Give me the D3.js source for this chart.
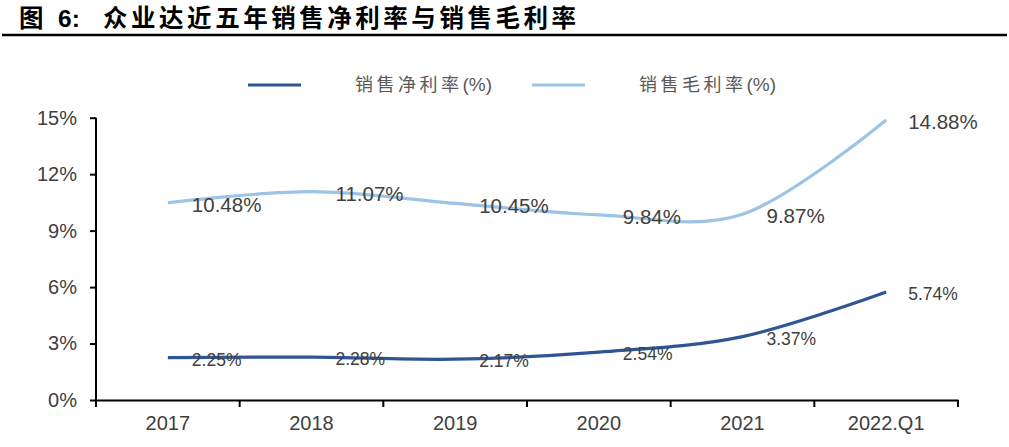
<!DOCTYPE html>
<html><head><meta charset="utf-8">
<script src="https://cdn.jsdelivr.net/npm/d3@7/dist/d3.min.js"></script>
<style>
html,body{margin:0;padding:0;background:#fff;}
svg{display:block;}
</style></head>
<body>
<svg id="c" width="1009" height="447"></svg>
<script>
const categories = ["2017","2018","2019","2020","2021","2022.Q1"];
const netMargin = [2.25, 2.28, 2.17, 2.54, 3.37, 5.74];
const grossMargin = [10.48, 11.07, 10.45, 9.84, 9.87, 14.88];
const yTicks = [0, 3, 6, 9, 12, 15];
const seriesNames = ["销售净利率", "销售毛利率"];
const seriesUnit = "(%)";
const titleParts = ["图", "6:", "众业达近五年销售净利率与销售毛利率"];

const svg = d3.select("#c");
const colors = ["#2F5597", "#9DC3E6"];

// Title
const title = svg.append("text").attr("y", 27)
  .attr("font-family", "'Noto Sans CJK SC', sans-serif").attr("font-weight", "bold")
  .attr("font-size", 24.5).attr("fill", "#000");
title.append("tspan").attr("x", 19).text(titleParts[0]);
title.append("tspan").attr("x", 58).attr("font-family", "'Liberation Sans', Arial, sans-serif").text(titleParts[1]);
title.append("tspan").attr("x", 103).attr("textLength", 473).attr("lengthAdjust", "spacing").text(titleParts[2]);
svg.append("line").attr("x1", 2).attr("x2", 1007).attr("y1", 35).attr("y2", 35)
  .attr("stroke", "#000").attr("stroke-width", 2.5);

const x = d3.scaleBand().domain(categories).range([96, 958]);
const y = d3.scaleLinear().domain([0, 15]).range([400, 117.7]);

// Axes
const xAxis = d3.axisBottom(x).tickSize(0).tickFormat(d => d);
const gx = svg.append("g").attr("transform", "translate(0,400)").call(xAxis);
gx.select(".domain").attr("stroke", "#000").attr("stroke-width", 2);
gx.selectAll("text").attr("font-family", "'Liberation Sans', Arial, sans-serif")
  .attr("font-size", 20).attr("fill", "#404040").attr("dy", "1.2em").attr("y", 6);
const bounds = categories.map(c => x(c)).concat([x.range()[1]]);
svg.append("g").selectAll("line").data(bounds).join("line")
  .attr("x1", d => d).attr("x2", d => d).attr("y1", 400).attr("y2", 407)
  .attr("stroke", "#000").attr("stroke-width", 2);

const yAxis = d3.axisLeft(y).tickValues(yTicks).tickSize(6).tickPadding(13).tickFormat(d => d + "%");
const gy = svg.append("g").attr("transform", "translate(96,0)").call(yAxis);
gy.select(".domain").attr("stroke", "#000").attr("stroke-width", 2).attr("d", `M0,${y(15)}V${y(0)}`);
gy.selectAll(".tick line").attr("stroke", "#000").attr("stroke-width", 2);
gy.selectAll("text").attr("font-family", "'Liberation Sans', Arial, sans-serif")
  .attr("font-size", 20).attr("fill", "#404040");

// Lines
const cx = c => x(c) + x.bandwidth() / 2;
const line = d3.line().x((d, i) => cx(categories[i])).y(d => y(d)).curve(d3.curveCardinal.tension(0));
const series = [netMargin, grossMargin];
series.forEach((s, k) => {
  svg.append("path").datum(s).attr("d", line).attr("fill", "none")
    .attr("stroke", colors[k]).attr("stroke-width", 3.2);
});

// Data labels
const labelSizes = [17.5, 20.5];
series.forEach((s, k) => {
  svg.append("g").selectAll("text").data(s).join("text")
    .attr("x", (d, i) => cx(categories[i]) + (i === categories.length - 1 ? 22 : 24))
    .attr("y", d => y(d) + 2)
    .attr("dy", "0.35em")
    .attr("font-family", "'Liberation Sans', Arial, sans-serif")
    .attr("font-size", labelSizes[k]).attr("fill", "#404040")
    .text(d => d.toFixed(2) + "%");
});

// Legend
const legendPos = [{lx: 248, tx: 355}, {lx: 532, tx: 639}];
seriesNames.forEach((n, k) => {
  svg.append("line").attr("x1", legendPos[k].lx).attr("x2", legendPos[k].lx + 53)
    .attr("y1", 85).attr("y2", 85).attr("stroke", colors[k]).attr("stroke-width", 3.2);
  const t = svg.append("text").attr("x", legendPos[k].tx).attr("y", 85).attr("dy", "0.35em")
    .attr("font-family", "'Noto Sans CJK SC', sans-serif").attr("font-size", 18)
    .attr("fill", "#595959");
  t.append("tspan").attr("letter-spacing", 3.5).text(n);
  t.append("tspan").attr("font-family", "'Liberation Sans', Arial, sans-serif").attr("font-size", 19).text(seriesUnit);
});
</script>
</body></html>
